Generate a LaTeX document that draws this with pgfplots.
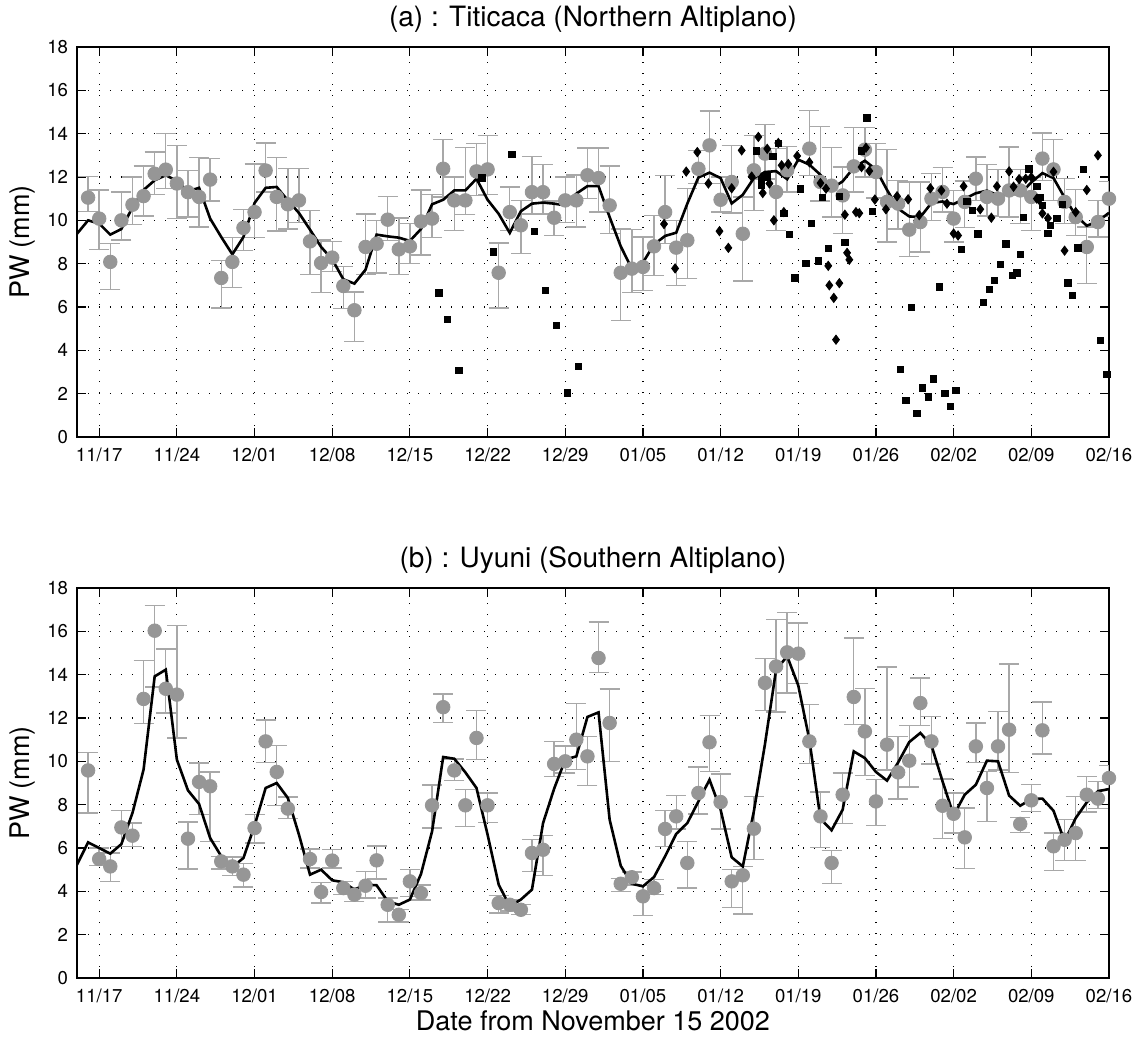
\documentclass[border=0pt]{standalone}
\usepackage{fontspec}
\setmainfont{TeX Gyre Heros}
\usepackage{pgfplots}
\usepackage{pgfplotstable}
\pgfplotsset{compat=1.18}

\definecolor{dotgray}{RGB}{150,150,150}
\definecolor{bargray}{RGB}{168,168,168}

% day index: 0 = Nov 15 2002
% GPS estimates: day, value, top of bar, bottom of bar
\pgfplotstableread{
d v t b
1 11.05 12.03 10.42
2 10.08 11.4 8.65
3 8.08 8.92 6.82
4 10.0 11.3 9.1
5 10.72 12.0 9.8
6 11.12 12.5 10.2
7 12.15 13.15 11.2
8 12.34 14.0 11.46
9 11.7 13.46 10.08
10 11.3 12.3 10.15
11 11.08 12.9 9.7
12 11.88 12.85 10.9
13 7.34 8.15 5.95
14 8.08 9.2 6.9
15 9.65 10.5 8.6
16 10.38 12.6 9.2
17 12.3 13.57 11.3
18 11.08 12.9 9.5
19 10.74 12.4 9.6
20 10.92 12.4 9.9
21 9.03 10.46 7.5
22 8.03 9.1 6.66
23 8.28 9.03 7.65
24 6.97 7.88 5.92
25 5.85 6.7 4.4
26 8.77 10.3 7.5
27 8.92 10.0 7.57
28 10.03 11.1 9.08
29 8.66 10.1 7.5
30 8.8 9.85 8.0
31 9.95 11.4 8.4
32 10.08 11.2 9.2
33 12.38 13.74 11.08
34 10.92 12.0 9.54
35 10.92 13.35 10.28
36 12.26 13.54 11.15
37 12.35 13.92 11.2
38 7.58 8.95 5.95
39 10.38 11.54 9.54
40 9.77 10.92 8.46
41 11.3 12.95 10.3
42 11.3 12.57 10.3
43 10.12 10.9 9.3
44 10.92 12.0 9.9
45 10.92 12.1 9.7
46 12.08 13.34 11.0
47 11.95 13.34 10.38
48 10.69 12.5 9.4
49 7.58 9.6 5.38
50 7.77 9.57 6.66
51 7.85 9.23 6.77
52 8.8 10.23 7.46
53 10.38 12.08 8.92
54 8.74 10.0 7.0
55 9.08 11.46 7.31
56 12.38 13.23 11.7
57 13.46 15.04 11.7
58 10.95 12.0 10.38
59 11.77 13.46 10.34
60 9.38 11.08 7.2
61 12.31 13.92 10.46
62 13.08 14.41 11.9
63 11.31 13.31 9.54
64 12.31 13.4 11.3
66 13.31 15.08 12.08
67 11.77 14.34 10.9
68 11.6 13.35 10.15
69 11.15 12.46 9.38
70 12.49 14.28 11.3
71 13.26 14.28 12.0
72 12.23 13.54 11.03
73 10.85 13.26 9.0
74 10.77 11.85 9.6
75 9.57 11.77 8.34
76 9.92 11.77 8.54
77 11.0 12.15 10.0
78 11.31 12.43 10.38
79 10.08 11.38 9.0
80 10.85 11.81 9.66
81 11.92 12.92 10.92
82 11.08 12.58 10.2
83 11.0 12.34 10.18
84 11.38 13.38 10.15
85 11.38 12.34 9.85
86 11.08 12.0 9.54
87 12.85 14.03 11.85
88 12.35 13.74 10.92
89 10.85 11.92 9.85
90 10.15 11.43 9.31
91 8.77 9.69 7.08
92 9.92 10.92 9.23
93 11.0 11.8 10.2
}\gpsA

\pgfplotstableread{
d v
0 9.38
1 10.0
2 9.85
3 9.34
4 9.6
5 10.6
6 11.4
7 11.85
8 12.08
9 11.82
10 11.34
11 11.5
12 10.08
13 9.23
14 8.43
15 9.23
16 10.8
17 11.5
18 11.54
19 10.92
20 10.34
21 9.57
22 8.77
23 8.2
24 7.28
25 7.08
26 7.72
27 9.34
28 9.26
29 9.2
30 9.05
31 9.6
32 10.74
33 10.95
34 11.38
35 11.38
36 11.92
37 10.95
38 10.3
39 9.42
40 10.42
41 10.77
42 10.82
43 10.77
44 10.69
45 11.23
46 11.58
47 11.58
48 10.15
49 8.8
50 7.77
51 8.05
52 8.89
53 9.28
54 9.43
55 10.77
56 11.98
57 12.2
58 11.95
59 10.78
60 11.18
61 11.95
62 12.23
63 12.27
64 11.9
65 12.8
66 12.57
67 12.1
68 11.46
69 11.8
70 12.43
71 12.75
72 12.35
73 11.4
74 10.54
75 10.18
76 10.15
77 10.8
78 10.87
79 10.75
80 11.0
81 11.25
82 11.37
83 11.15
84 11.2
85 11.22
86 11.75
87 12.18
88 11.95
89 11.05
90 10.23
91 9.75
92 9.95
93 10.35
}\modelA

\pgfplotstableread{
d v
32.6 6.66
33.4 5.42
34.4 3.08
36.5 11.95
37.5 8.54
39.2 13.05
41.2 9.49
42.2 6.77
43.2 5.15
44.2 2.03
45.2 3.26
61.2 13.2
61.7 11.85
61.7 11.6
62.2 12.0
62.7 12.95
63.2 13.54
63.7 10.31
64.2 9.34
64.7 7.35
65.2 11.46
65.7 8.0
66.2 9.85
66.8 8.12
67.2 11.05
67.7 8.7
68.7 11.1
69.2 8.97
70.7 13.2
71.2 14.72
71.7 10.4
74.2 3.12
74.7 1.69
75.2 5.98
75.7 1.08
76.2 2.26
76.7 1.85
77.2 2.69
77.7 6.92
78.2 2.0
78.7 1.42
79.2 2.15
79.7 8.65
80.2 10.88
80.7 10.46
81.2 9.38
81.7 6.2
82.2 6.82
82.7 7.23
83.2 7.96
83.7 8.92
84.3 7.46
84.7 7.58
85.0 8.42
85.3 10.13
85.8 12.38
86.5 11.58
86.8 11.06
87.0 10.69
87.5 9.4
87.7 9.77
88.3 10.08
88.8 10.74
89.3 7.12
89.7 6.54
90.2 8.73
90.7 12.35
92.2 4.46
92.8 2.88
}\sqA

\pgfplotstableread{
d v
52.9 9.83
53.9 7.78
54.9 12.25
55.9 13.15
56.9 11.7
57.9 9.5
58.7 8.73
59.0 11.48
59.9 13.23
60.8 12.02
61.4 13.85
61.8 11.26
61.8 11.97
62.2 13.3
62.4 11.7
62.8 10.0
63.2 13.57
63.5 12.54
63.7 10.38
64.1 12.6
64.9 12.97
66.0 12.68
67.0 11.72
67.5 11.46
67.7 7.9
67.8 7.0
68.2 6.42
68.4 4.49
68.7 7.1
69.2 10.26
69.4 8.5
69.6 8.18
70.2 10.38
70.5 10.33
70.7 12.46
71.1 13.35
71.4 12.28
71.9 10.96
72.9 10.51
73.9 11.11
74.9 10.97
75.9 10.24
76.9 11.48
77.9 11.38
78.4 10.77
79.0 9.39
79.4 9.3
79.9 11.57
81.4 10.51
82.4 10.12
82.9 11.57
84.0 12.26
84.4 11.55
84.9 11.9
85.5 11.92
86.0 11.99
86.5 11.0
86.7 10.95
87.0 10.32
87.5 10.1
88.0 12.24
89.0 8.6
90.0 10.38
91.0 11.4
92.0 13.0
}\dmA

\pgfplotstableread{
d v t b
1 9.58 10.42 7.62
2 5.49 6.0 5.2
3 5.15 5.77 4.46
4 6.95 7.74 6.08
5 6.57 7.15 6.08
6 12.88 14.66 11.74
7 16.03 17.2 13.43
8 13.35 15.18 12.23
9 13.08 16.28 11.08
10 6.43 7.2 5.03
11 9.05 9.92 7.54
12 8.85 9.5 6.3
13 5.38 5.6 5.03
14 5.15 5.58 4.72
15 4.77 5.28 4.2
16 6.92 7.54 6.23
17 10.92 11.9 9.95
18 9.51 10.72 7.97
19 7.82 8.35 7.35
21 5.49 5.95 5.08
22 3.97 4.42 3.46
23 5.42 5.92 5.08
24 4.15 4.46 3.85
25 3.85 4.15 3.54
26 4.26 4.92 3.69
27 5.43 6.1 4.57
28 3.38 3.7 2.58
29 2.92 3.15 2.58
30 4.46 5.0 3.77
31 3.92 4.3 3.6
32 7.97 8.9 6.92
33 12.5 13.1 11.8
34 9.58 10.1 9.12
35 7.97 8.7 7.0
36 11.08 12.35 10.08
37 7.97 8.54 7.18
38 3.46 3.8 3.0
39 3.38 3.6 3.1
40 3.15 3.38 2.92
41 5.77 6.38 4.92
42 5.92 6.57 4.74
43 9.88 10.92 9.31
44 10.0 10.7 9.46
45 11.0 12.66 9.62
46 10.23 11.15 8.88
47 14.77 16.43 14.1
48 11.77 13.34 10.0
49 4.35 4.6 4.0
50 4.65 4.9 4.3
51 3.77 4.26 2.89
52 4.15 4.54 3.85
53 6.88 7.74 6.08
54 7.46 8.42 6.88
55 5.31 6.31 4.15
56 8.54 9.74 7.57
57 10.88 12.12 9.54
58 8.12 9.42 6.88
59 4.46 5.0 3.26
60 4.74 5.15 2.95
61 6.89 8.38 5.46
62 13.62 14.74 12.35
63 14.38 16.54 12.28
64 15.03 16.88 13.15
65 14.97 16.38 13.58
66 10.92 12.62 9.9
67 7.46 8.58 6.03
68 5.31 5.89 4.35
69 8.46 9.46 7.12
70 12.97 15.69 11.69
71 11.38 13.35 9.34
72 8.15 9.15 7.03
73 10.77 14.35 9.6
74 9.49 11.15 8.26
75 10.03 11.66 8.82
76 12.69 13.85 11.65
77 10.92 12.08 9.88
78 7.95 9.18 6.43
79 7.58 8.54 6.69
80 6.49 7.85 5.05
81 10.69 11.77 9.95
82 8.77 9.54 7.23
83 10.69 12.31 9.6
84 11.46 14.5 9.49
85 7.11 7.42 6.72
86 8.2 8.92 7.69
87 11.43 12.74 10.34
88 6.08 6.69 4.95
89 6.38 7.31 5.43
90 6.69 8.38 5.43
91 8.46 9.31 7.66
92 8.28 9.08 7.82
93 9.23 9.8 8.7
}\gpsB

\pgfplotstableread{
d v
0 5.23
1 6.26
2 6.0
3 5.74
4 6.18
5 7.62
6 9.62
7 13.92
8 14.23
9 10.08
10 8.66
11 8.03
12 6.46
13 5.62
14 5.12
15 5.54
16 7.03
17 8.77
18 9.0
19 8.31
20 6.62
21 4.77
22 5.0
23 4.51
24 4.42
25 4.08
26 4.31
27 4.28
28 3.54
29 3.38
30 3.62
31 4.8
32 6.77
33 10.2
34 10.12
35 9.49
36 8.77
37 6.62
38 4.31
39 3.31
40 3.62
41 4.08
42 7.15
43 8.74
44 10.08
45 10.23
46 12.05
47 12.26
48 7.31
49 5.18
50 4.35
51 4.23
52 4.66
53 5.62
54 6.65
55 7.15
56 8.15
57 9.15
58 7.77
59 5.57
60 5.15
61 7.7
62 10.8
63 14.23
64 14.85
65 13.5
66 11.0
67 7.35
68 6.82
69 7.77
70 10.46
71 10.15
72 9.51
73 9.11
74 9.95
75 10.89
76 11.31
77 10.74
78 9.08
79 7.51
80 8.46
81 8.92
82 10.03
83 10.0
84 8.42
85 7.95
86 8.26
87 8.28
88 7.72
89 6.31
90 7.38
91 8.11
92 8.62
93 8.72
}\modelB

\pgfplotsset{
  pwaxis/.style={
    scale only axis, width=516pt, height=195pt,
    xmin=0, xmax=93, ymin=0, ymax=18,
    xtick={2,9,...,93},
    xticklabels={11/17,11/24,12/01,12/08,12/15,12/22,12/29,01/05,01/12,01/19,01/26,02/02,02/09,02/16},
    ytick={0,2,...,18},
    tick align=inside, major tick length=4.5pt,
    axis line style={line width=0.8pt},
    every tick/.style={black, line width=0.6pt},
    grid=major,
    major grid style={black, line width=0.6pt, dash pattern=on 0.6pt off 4.9pt},
    /pgf/number format/assume math mode=true,
    tick label style={font=\fontsize{9.3}{11}\selectfont},
    xticklabel style={yshift=-2pt},
    yticklabel style={xshift=-1pt},
    label style={font=\fontsize{13.5}{16}\selectfont},
    xlabel style={yshift=3pt},
    ylabel style={yshift=-1pt},
    title style={font=\fontsize{14}{16}\selectfont, yshift=-2.5pt},
    ylabel={PW (mm)},
  },
  gpsplot/.style={
    only marks, mark=*, mark size=3.4pt, color=dotgray,
    mark options={draw=dotgray, fill=dotgray},
    error bars/y dir=both, error bars/y explicit,
    error bars/error bar style={bargray, line width=0.7pt},
    error bars/error mark options={rotate=90, bargray, mark size=5pt, line width=0.7pt},
  },
  modelplot/.style={black, line width=1.3pt, no marks},
}

\begin{document}
\begin{tikzpicture}
\useasboundingbox (-38.5pt,23.5pt) rectangle (532pt,-495.5pt);

\begin{axis}[pwaxis, at={(0pt,0pt)}, anchor=north west,
  title={(a) : Titicaca (Northern Altiplano)}]
  \addplot[gpsplot] table[x=d, y=v,
    y error plus expr=\thisrow{t}-\thisrow{v},
    y error minus expr=\thisrow{v}-\thisrow{b}] {\gpsA};
  \addplot[modelplot] table[x=d, y=v] {\modelA};
  \addplot[only marks, mark=diamond*, mark size=2.3pt, black] table[x=d, y=v] {\dmA};
  \addplot[only marks, mark=square*, mark size=1.6pt, black] table[x=d, y=v] {\sqA};
\end{axis}

\begin{axis}[pwaxis, at={(0pt,-270.5pt)}, anchor=north west,
  title={(b) : Uyuni (Southern Altiplano)},
  xlabel={Date from November 15 2002}]
  \addplot[gpsplot] table[x=d, y=v,
    y error plus expr=\thisrow{t}-\thisrow{v},
    y error minus expr=\thisrow{v}-\thisrow{b}] {\gpsB};
  \addplot[modelplot] table[x=d, y=v] {\modelB};
\end{axis}
\end{tikzpicture}
\end{document}
